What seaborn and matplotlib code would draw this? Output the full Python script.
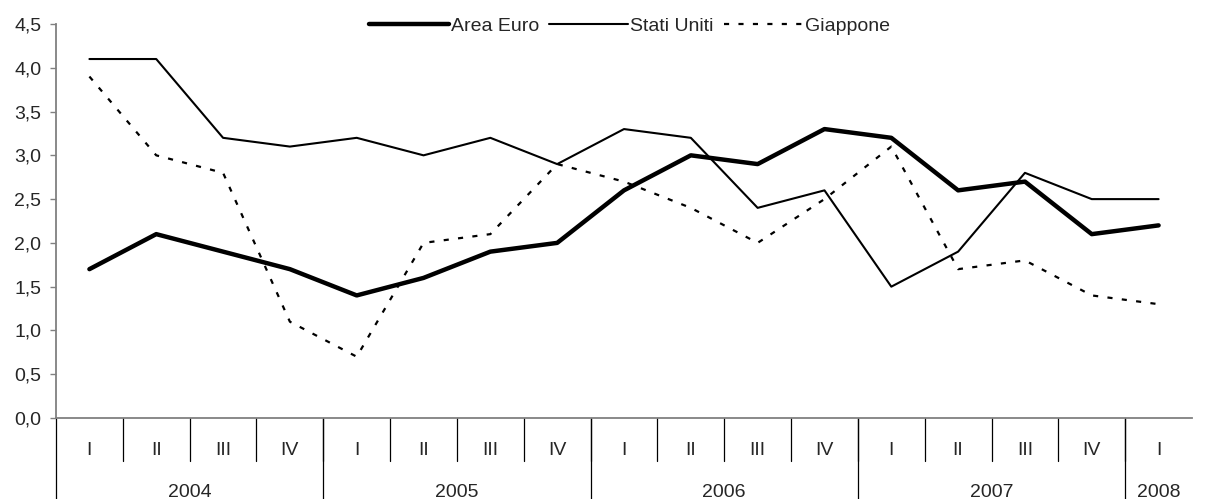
import matplotlib
matplotlib.use("Agg")
import matplotlib.pyplot as plt
import matplotlib.transforms as mtransforms
import seaborn as sns
import pandas as pd
import numpy as np

quarters = ["I", "II", "III", "IV", "I", "II", "III", "IV", "I", "II", "III", "IV",
            "I", "II", "III", "IV", "I"]
years = ["2004", "2005", "2006", "2007", "2008"]
year_counts = [4, 4, 4, 4, 1]
area_euro = [1.7, 2.1, 1.9, 1.7, 1.4, 1.6, 1.9, 2.0, 2.6, 3.0, 2.9, 3.3, 3.2, 2.6, 2.7, 2.1, 2.2]
stati_uniti = [4.1, 4.1, 3.2, 3.1, 3.2, 3.0, 3.2, 2.9, 3.3, 3.2, 2.4, 2.6, 1.5, 1.9, 2.8, 2.5, 2.5]
giappone = [3.9, 3.0, 2.8, 1.1, 0.7, 2.0, 2.1, 2.9, 2.7, 2.4, 2.0, 2.5, 3.1, 1.7, 1.8, 1.4, 1.3]
series_names = ["Area Euro", "Stati Uniti", "Giappone"]

sns.set_style("white")
plt.rcParams['font.family'] = ['Liberation Sans', 'DejaVu Sans']
FS = 14

idx = np.arange(len(quarters))
df = pd.DataFrame({
    "x": np.tile(idx, 3),
    "val": area_euro + stati_uniti + giappone,
    "serie": np.repeat(series_names, len(quarters)),
})

fig = plt.figure(figsize=(12.11, 4.99), dpi=100)
ax = fig.add_axes([56 / 1211, 1 - 418 / 499, (1192 - 56) / 1211, 394 / 499])

styles = {
    "Area Euro": dict(lw=3.2, ls="-"),
    "Stati Uniti": dict(lw=1.5, ls="-"),
    "Giappone": dict(lw=1.6, ls=(0, (2.3, 4.2))),
}
for name in series_names:
    sub = df[df["serie"] == name]
    sns.lineplot(data=sub, x="x", y="val", ax=ax, color="black",
                 linewidth=styles[name]["lw"], linestyle=styles[name]["ls"],
                 label=name, legend=False)

ax.set_xlim(-0.5, len(quarters) - 0.5)
ax.set_ylim(0, 4.5)
yt = np.arange(0, 4.51, 0.5)
ax.set_yticks(yt)
ax.set_yticklabels([f"{v:.1f}".replace(".", ",") for v in yt], fontsize=FS)
ax.tick_params(axis="y", direction="out", length=4.5, width=1, color="#808080", pad=6, left=True)
ax.set_xticks([])
ax.set_xlabel("")
ax.set_ylabel("")
for s in ["top", "right"]:
    ax.spines[s].set_visible(False)
for s in ["left", "bottom"]:
    ax.spines[s].set_color("#808080")
    ax.spines[s].set_linewidth(1.3)

trans = mtransforms.blended_transform_factory(ax.transData, ax.transAxes)
# quarter labels and separators
for i, q in enumerate(quarters):
    ax.text(i, -0.094, q, transform=trans, ha="center", va="baseline", fontsize=FS)
for i in range(1, len(quarters)):
    ax.plot([i - 0.5, i - 0.5], [0, -0.109], transform=trans, color="black", lw=0.9, clip_on=False)
# year labels and separators
start = 0
ax.plot([-0.5, -0.5], [0, -0.21], transform=trans, color="black", lw=0.9, clip_on=False)
for y, c in zip(years, year_counts):
    center = start + (c - 1) / 2
    ax.text(center, -0.2005, y, transform=trans, ha="center", va="baseline", fontsize=FS)
    end = start + c
    if end < len(quarters):
        ax.plot([end - 0.5, end - 0.5], [0, -0.21], transform=trans, color="black", lw=0.9, clip_on=False)
    start = end

handles, labels = ax.get_legend_handles_labels()
leg = ax.legend(handles, labels, loc="center", bbox_to_anchor=(0.505, 0.995), ncol=3, frameon=False,
                fontsize=FS, handlelength=4.1, handletextpad=0.1, columnspacing=0.5,
                borderpad=0, borderaxespad=0)

fig.savefig("out.png", dpi=100)
